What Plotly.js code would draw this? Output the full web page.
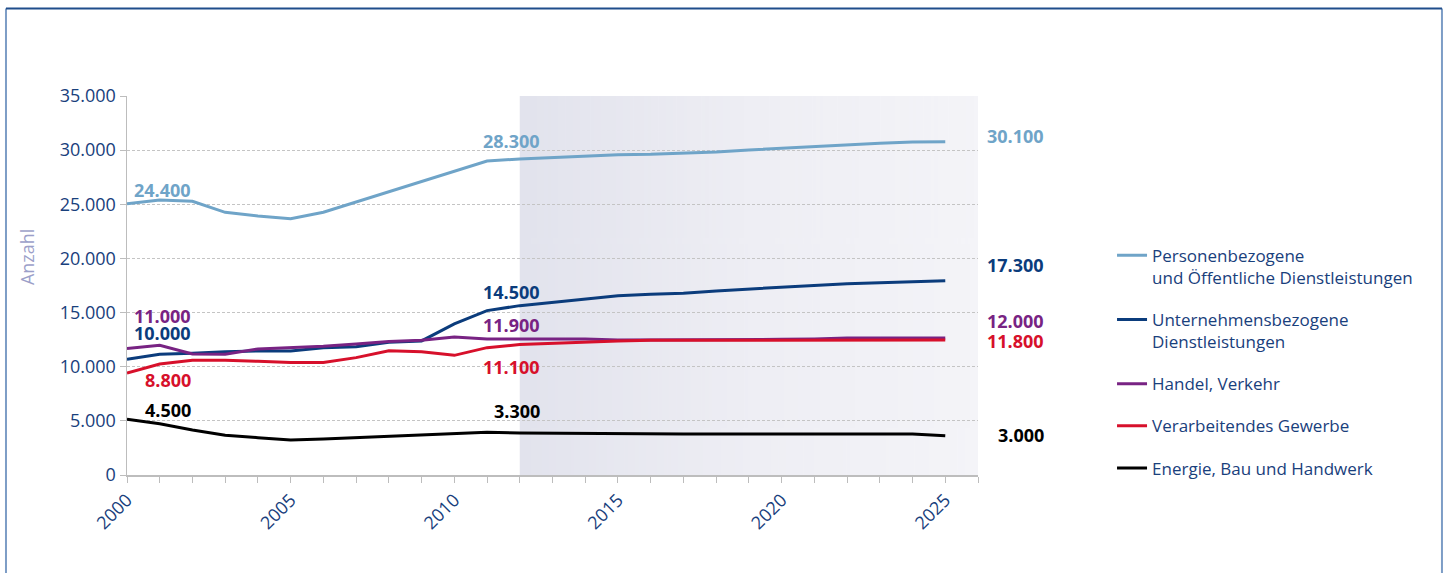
<!DOCTYPE html>
<html>
<head>
<meta charset="utf-8">
<script src="https://cdn.plot.ly/plotly-3.0.1.min.js"></script>
<style>
  html, body { margin: 0; padding: 0; background: #ffffff; }
  #chart { width: 1450px; height: 573px; }
</style>
</head>
<body>
<div id="chart"></div>
<script>
// ---------- data ----------
const years = [2000, 2001, 2002, 2003, 2004, 2005, 2006, 2007, 2008, 2009, 2010, 2011, 2012,
               2013, 2014, 2015, 2016, 2017, 2018, 2019, 2020, 2021, 2022, 2023, 2024, 2025];

const seriesNames = [
  'Personenbezogene<br>und Öffentliche Dienstleistungen',
  'Unternehmensbezogene<br>Dienstleistungen',
  'Handel, Verkehr',
  'Verarbeitendes Gewerbe',
  'Energie, Bau und Handwerk'
];

const personen    = [25050, 25400, 25280, 24260, 23920, 23670, 24260, 25210, 26110, 27090, 28070, 29000, 29180,
                     29300, 29490, 29580, 29610, 29710, 29830, 30010, 30170, 30350, 30450, 30630, 30750, 30780];
const unternehmen = [10690, 11150, 11240, 11390, 11450, 11450, 11760, 11850, 12250, 12380, 13950, 15180, 15640,
                     15950, 16260, 16560, 16690, 16780, 17000, 17180, 17300, 17490, 17670, 17760, 17860, 17950];
const handel      = [11670, 11980, 11180, 11150, 11640, 11730, 11890, 12100, 12320, 12440, 12750, 12560, 12560,
                     12500, 12560, 12470, 12470, 12470, 12470, 12530, 12530, 12560, 12650, 12650, 12650, 12650];
const verarb      = [9420, 10250, 10590, 10590, 10500, 10400, 10400, 10840, 11480, 11390, 11050, 11760, 12040,
                     12160, 12280, 12380, 12440, 12440, 12440, 12440, 12440, 12470, 12470, 12470, 12470, 12470];
const energie     = [5140, 4740, 4160, 3670, 3450, 3230, 3330, 3450, 3570, 3670, 3850, 3940, 3880,
                     3850, 3880, 3790, 3790, 3790, 3790, 3790, 3790, 3790, 3790, 3790, 3790, 3630];

// value labels printed on the chart (start 2000, 2011, end 2025)
const labelsStart = [24400, 10000, 11000, 8800, 4500];
const labelsMid   = [28300, 14500, 11900, 11100, 3300];
const labelsEnd   = [30100, 17300, 12000, 11800, 3000];

const yTitle = 'Anzahl';
const forecastStart = 2012;
const forecastEnd = 2026;

// ---------- styles / positions ----------
const colors = ['#6fa4c8', '#0b3c7c', '#782383', '#d7102b', '#000000'];
const textBlue = '#19407c';
const fontFam = '"Open Sans", "Liberation Sans", sans-serif';

const startLabelY = [26320, 13070, 14685, 8775, 6000];
const midLabelY   = [30890, 16945, 13850, 10020, 5865];
const endLabelY   = [31350, 19390, 14220, 12375, 3695];

const allSeries = [personen, unternehmen, handel, verarb, energie];

const fmt = v => v.toLocaleString('de-DE');

const traces = allSeries.map((vals, i) => ({
  type: 'scatter',
  mode: 'lines',
  x: years,
  y: vals,
  name: seriesNames[i],
  legendgroup: 'g' + i,
  line: { color: colors[i], width: 3 },
  hoverinfo: 'skip'
}));

const annotations = [];
allSeries.forEach((_, i) => {
  const f = { family: fontFam, size: 18, color: colors[i], weight: 700 };
  annotations.push({ x: 2002, y: startLabelY[i], xref: 'x', yref: 'y', text: fmt(labelsStart[i]),
    showarrow: false, xanchor: 'right', yanchor: 'middle', borderpad: 0, font: f });
  annotations.push({ x: 2012.65, y: midLabelY[i], xref: 'x', yref: 'y', text: fmt(labelsMid[i]),
    showarrow: false, xanchor: 'right', yanchor: 'middle', borderpad: 0, font: f });
  annotations.push({ x: 1.0787, y: endLabelY[i], xref: 'paper', yref: 'y', text: fmt(labelsEnd[i]),
    showarrow: false, xanchor: 'right', yanchor: 'middle', borderpad: 0, font: f });
});
// y-axis title (placed as rotated text, above axis centre as in the original)
annotations.push({ x: -0.1175, y: 0.575, xref: 'paper', yref: 'paper', text: yTitle, textangle: -90,
  showarrow: false, xanchor: 'center', yanchor: 'middle',
  font: { family: fontFam, size: 18, color: '#9c9fc9' } });

// gradient background image for the forecast period
function gradientURL() {
  const c = document.createElement('canvas');
  c.width = 256; c.height = 4;
  const ctx = c.getContext('2d');
  const g = ctx.createLinearGradient(0, 0, 256, 0);
  g.addColorStop(0, '#e2e3ed');
  g.addColorStop(0.5, '#eeeef4');
  g.addColorStop(1, '#f4f4f8');
  ctx.fillStyle = g;
  ctx.fillRect(0, 0, 256, 4);
  return c.toDataURL('image/png');
}

const frameSide = '#7d9dc6';
const frameTop = '#1f4d8b';
const shapes = [
  { type: 'line', xref: 'paper', yref: 'paper', x0: -0.1422, x1: -0.1422, y0: -0.3, y1: 1.2309,
    line: { color: frameSide, width: 2 }, layer: 'above' },
  { type: 'line', xref: 'paper', yref: 'paper', x0: 1.5452, x1: 1.5452, y0: -0.3, y1: 1.2309,
    line: { color: frameSide, width: 2 }, layer: 'above' },
  { type: 'line', xref: 'paper', yref: 'paper', x0: -0.1422, x1: 1.5452, y0: 1.2309, y1: 1.2309,
    line: { color: frameTop, width: 2 }, layer: 'above' }
];

const layout = {
  width: 1450,
  height: 573,
  margin: { l: 127, r: 472, t: 96, b: 98 },
  paper_bgcolor: '#ffffff',
  plot_bgcolor: '#ffffff',
  separators: ',.',
  showlegend: true,
  hovermode: false,
  font: { family: fontFam, color: textBlue, size: 17 },
  xaxis: {
    range: [2000, 2026],
    tick0: 2000,
    dtick: 5,
    tickangle: -45,
    ticks: 'outside',
    ticklen: 6,
    tickwidth: 1,
    tickcolor: '#bdbdbd',
    showline: true,
    linecolor: '#bdbdbd',
    linewidth: 1.5,
    showgrid: false,
    zeroline: false,
    tickfont: { family: fontFam, size: 18, color: textBlue },
    minor: { dtick: 1, ticks: 'outside', ticklen: 6, tickcolor: '#bdbdbd', showgrid: false },
    fixedrange: true
  },
  yaxis: {
    range: [0, 35000],
    dtick: 5000,
    tickformat: ',d',
    ticks: 'outside',
    ticklen: 6,
    tickcolor: '#bdbdbd',
    showline: true,
    linecolor: '#bdbdbd',
    linewidth: 1.5,
    showgrid: true,
    gridcolor: '#c4c4c4',
    griddash: '3px,2px',
    gridwidth: 1,
    zeroline: false,
    tickfont: { family: fontFam, size: 18, color: textBlue },
    fixedrange: true
  },
  legend: {
    x: 1.1575,
    xanchor: 'left',
    y: 0.626,
    yanchor: 'top',
    traceorder: 'grouped',
    tracegroupgap: 17,
    valign: 'top',
    bgcolor: 'rgba(0,0,0,0)',
    font: { family: fontFam, size: 17, color: textBlue }
  },
  images: [{
    source: gradientURL(),
    xref: 'x', yref: 'y',
    x: forecastStart, y: 35000,
    sizex: forecastEnd - forecastStart, sizey: 35000,
    sizing: 'stretch',
    xanchor: 'left', yanchor: 'top',
    layer: 'below'
  }],
  annotations: annotations,
  shapes: shapes
};

Plotly.newPlot('chart', traces, layout, { staticPlot: true, displayModeBar: false });
</script>
</body>
</html>
